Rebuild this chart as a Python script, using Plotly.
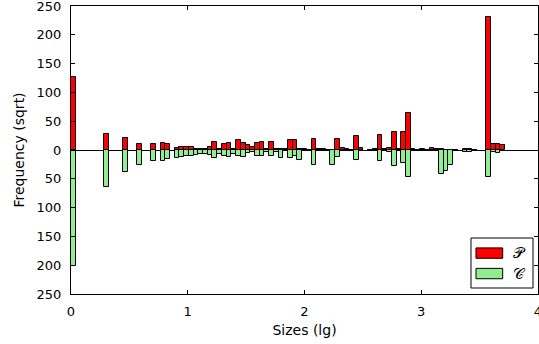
import plotly.graph_objects as go

# Bin centres (log10 of size), histogram bins of width 4/99
sizes_lg = [0.020, 0.303, 0.465, 0.586, 0.707, 0.788, 0.828, 0.909, 0.949, 0.990,
            1.030, 1.071, 1.111, 1.152, 1.192, 1.232, 1.273, 1.313, 1.354, 1.394,
            1.434, 1.475, 1.515, 1.556, 1.596, 1.636, 1.677, 1.717, 1.758, 1.798,
            1.838, 1.879, 1.919, 1.960, 2.000, 2.040, 2.081, 2.121, 2.162, 2.202,
            2.242, 2.283, 2.323, 2.364, 2.404, 2.444, 2.485, 2.566, 2.606, 2.646,
            2.687, 2.727, 2.768, 2.808, 2.848, 2.889, 2.929, 2.970, 3.010, 3.051,
            3.091, 3.131, 3.172, 3.212, 3.253, 3.293, 3.374, 3.414, 3.455, 3.576,
            3.616, 3.657, 3.697]

# Frequencies (sqrt) of the P set (drawn upward)
p_freq = [126, 27, 21, 11, 10, 12.5, 10, 4, 5, 4.5,
          4.5, 2, 1, 1, 4.5, 14, 1.5, 10, 12.5, 1.5,
          18, 13, 9, 5, 12, 14, 2, 14, 2, 1,
          1, 18, 18, 2, 1, 0.5, 19, 2, 1, 0.5,
          0.5, 19, 2.7, 1, 0.5, 23.5, 3.2, 0.5, 1, 25.5,
          1, 3.2, 31.5, 1, 30.5, 64, 2.3, 0.5, 1, 0.5,
          3, 1.5, 1, 0.5, 0, 0, 1, 1, 0.5, 231,
          11, 11, 8.7]

# Frequencies (sqrt) of the C set (drawn downward)
c_freq = [202, 64, 38, 26, 19, 19.5, 15, 13.5, 12.5, 10,
          10, 9, 7, 7, 9, 13.5, 7, 10, 12, 7,
          11, 13, 5.5, 4, 11, 10, 4, 10, 3, 14,
          2.5, 14, 11, 17, 2.5, 1, 25.5, 1, 0.5, 0.5,
          26, 12, 1.4, 0.5, 0.5, 17, 2.5, 0, 1, 18.5,
          0.5, 3.7, 28, 0.5, 22.7, 47.5, 2.3, 0.5, 0.5, 0.5,
          1, 2, 41, 36.5, 26.5, 1.7, 3, 3, 0.5, 47,
          4, 4.6, 0]

y_ticks = [-250, -200, -150, -100, -50, 0, 50, 100, 150, 200, 250]
y_tick_labels = [str(abs(v)) for v in y_ticks]
x_ticks = [0, 1, 2, 3, 4]

bin_width = 4 / 99
font_family = "DejaVu Sans"

fig = go.Figure()
fig.add_trace(go.Bar(
    x=sizes_lg, y=p_freq, width=bin_width, name="𝒫",
    marker=dict(color="#ff0000", line=dict(color="black", width=1)),
    showlegend=False,
))
fig.add_trace(go.Bar(
    x=sizes_lg, y=[-v for v in c_freq], width=bin_width, name="𝒞",
    marker=dict(color="#90ee90", line=dict(color="black", width=1)),
    showlegend=False,
))

fig.update_layout(
    width=539, height=344,
    margin=dict(l=71, r=1, t=6, b=50, autoexpand=False),
    paper_bgcolor="white", plot_bgcolor="white",
    barmode="relative", bargap=0,
    font=dict(family=font_family, size=12, color="black"),
)
fig.update_xaxes(
    range=[0, 4], tickvals=x_ticks, ticks="inside", ticklen=4, tickcolor="black",
    showline=True, linecolor="black", linewidth=1, mirror="allticks",
    showgrid=False, zeroline=False, ticklabelstandoff=5, automargin=False,
    ticklabeloverflow="allow",
    title=dict(text="Sizes (lg)", font=dict(size=14), standoff=7),
    tickfont=dict(size=13),
)
fig.update_yaxes(
    range=[-250, 250], tickvals=y_ticks, ticktext=y_tick_labels,
    ticks="inside", ticklen=4, tickcolor="black",
    showline=True, linecolor="black", linewidth=1, mirror="allticks",
    showgrid=False, zeroline=True, zerolinecolor="black", zerolinewidth=1,
    ticklabelstandoff=6, automargin=False, ticklabeloverflow="allow",
    title=dict(text="Frequency (sqrt)", font=dict(size=14), standoff=8),
    tickfont=dict(size=13),
)

# Legend drawn as a matplotlib-style box (paper coordinates)
legend_entries = [("𝒫", "#ff0000"), ("𝒞", "#90ee90")]
fig.add_shape(type="rect", xref="paper", yref="paper",
              x0=0.8565, x1=0.9893, y0=0.0208, y1=0.1944,
              line=dict(color="black", width=1), fillcolor="white", layer="above")
row_y = [0.142, 0.071]
for (label, color), yc in zip(legend_entries, row_y):
    fig.add_shape(type="rect", xref="paper", yref="paper",
                  x0=0.8672, x1=0.9244, y0=yc - 0.018, y1=yc + 0.018,
                  line=dict(color="black", width=1), fillcolor=color, layer="above")
    fig.add_annotation(xref="paper", yref="paper", x=0.942, y=yc, text=label,
                       showarrow=False, xanchor="left", yanchor="middle",
                       font=dict(family="DejaVu Sans", size=15, color="black"))

fig.write_html("out.html", config={"displayModeBar": False},
               post_script="document.body.style.margin='0';document.body.style.overflow='hidden';")
